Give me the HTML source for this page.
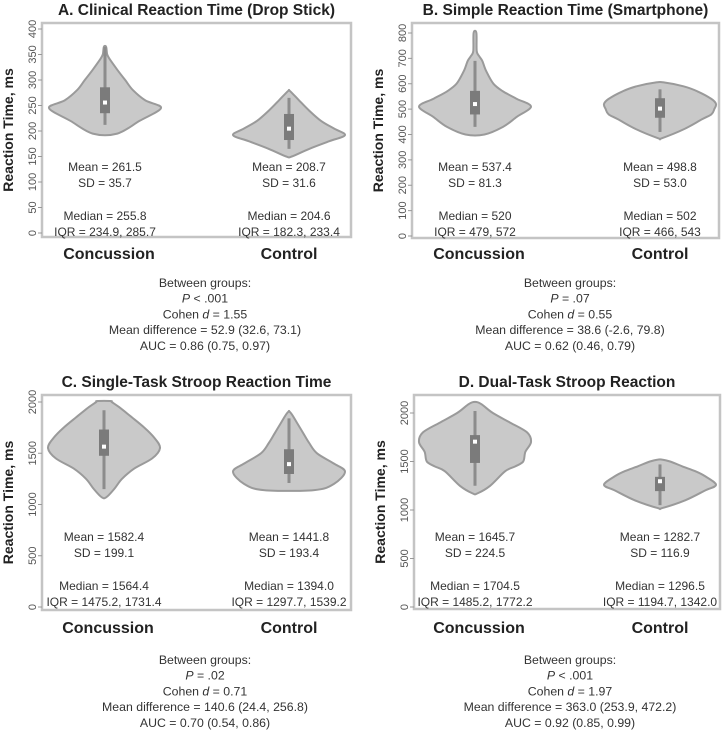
<!DOCTYPE html>
<html><head><meta charset="utf-8">
<style>
body{margin:0;background:#fff;}
svg{display:block;font-family:"Liberation Sans",Arial,sans-serif;}
.title{font-weight:bold;font-size:15.5px;fill:#222;text-anchor:middle;}
.cat{font-weight:bold;font-size:16px;fill:#222;text-anchor:middle;}
.ax{font-weight:bold;font-size:14px;fill:#222;text-anchor:middle;}
.tk{font-size:11px;fill:#555;text-anchor:middle;}
.st{font-size:12px;fill:#333;text-anchor:middle;}
.bg{font-size:12.3px;fill:#333;text-anchor:middle;}
</style></head>
<body>
<svg id="chart" width="724" height="734" viewBox="0 0 724 734"></svg>
<script>
// ---- data ----
const panelTitles = ["A. Clinical Reaction Time (Drop Stick)","B. Simple Reaction Time (Smartphone)","C. Single-Task Stroop Reaction Time","D. Dual-Task Stroop Reaction"];
const categories = ["Concussion","Control"];
const yMax = [400, 800, 2000, 2000];
const tickStep = [50, 100, 500, 500];
// violin density profiles: values and relative density
const vVals = [
 [[195,220,245,260,280,300,320,340,350,365],[150,165,180,192,205,220,240,260,275,280]],
 [[400,430,470,510,540,570,600,650,690,710,730,800],[385,420,460,480,500,520,540,570,590,605]],
 [[1070,1150,1250,1350,1450,1550,1650,1750,1850,1950,2000,2010],[1140,1200,1320,1400,1500,1600,1700,1800,1880,1910]],
 [[1170,1250,1400,1450,1500,1600,1700,1800,1900,2000,2080,2110],[1020,1100,1200,1260,1350,1400,1450,1500,1520]]
];
const vDens = [
 [[0.22,0.62,1,0.72,0.5,0.36,0.22,0.09,0.04,0.02],[0.05,0.36,0.72,1,0.8,0.57,0.36,0.18,0.05,0]],
 [[0.17,0.5,0.75,1,0.75,0.5,0.33,0.2,0.13,0.07,0.03,0.025],[0.03,0.42,0.75,0.92,0.97,1,0.92,0.67,0.42,0.08]],
 [[0.04,0.18,0.32,0.54,0.86,1,0.9,0.72,0.5,0.27,0.14,0.12],[0.45,0.8,1,0.8,0.5,0.36,0.25,0.14,0.05,0]],
 [[0.04,0.27,0.54,0.72,0.86,0.9,1,0.93,0.63,0.32,0.14,0.05],[0.04,0.45,0.8,1,0.8,0.63,0.4,0.18,0.04]]
];
const whiskerLo = [[212,165],[430,410],[1150,1210],[1250,1050]];
const whiskerHi = [[365,265],[690,578],[1920,1840],[2020,1470]];
const q1 = [[234.9,182.3],[479,466],[1475.2,1297.7],[1485.2,1194.7]];
const q3 = [[285.7,233.4],[572,543],[1731.4,1539.2],[1772.2,1342.0]];
const medians = [[255.8,204.6],[520,502],[1564.4,1394.0],[1704.5,1296.5]];
const meanLbl = [["261.5","208.7"],["537.4","498.8"],["1582.4","1441.8"],["1645.7","1282.7"]];
const sdLbl = [["35.7","31.6"],["81.3","53.0"],["199.1","193.4"],["224.5","116.9"]];
const iqrLbl = [["234.9, 285.7","182.3, 233.4"],["479, 572","466, 543"],["1475.2, 1731.4","1297.7, 1539.2"],["1485.2, 1772.2","1194.7, 1342.0"]];
const betweenP = ["< .001","= .07","= .02","< .001"];
const cohenD = ["1.55","0.55","0.71","1.97"];
const meanDiff = ["52.9 (32.6, 73.1)","38.6 (-2.6, 79.8)","140.6 (24.4, 256.8)","363.0 (253.9, 472.2)"];
const aucLbl = ["0.86 (0.75, 0.97)","0.62 (0.46, 0.79)","0.70 (0.54, 0.86)","0.92 (0.85, 0.99)"];

// ---- layout ----
const L = [
 {x0:42,x1:351,top:23,bot:237,y0:233,yT:29,cx:[105,289],tY:15,statY:167,catY:259,bgY:283,bgX:205},
 {x0:412,x1:719,top:23,bot:238,y0:236,yT:33,cx:[475,660],tY:15,statY:167,catY:259,bgY:283,bgX:570},
 {x0:42,x1:351,top:395,bot:610,y0:607,yT:402,cx:[104,289],tY:387,statY:537,catY:633,bgY:660,bgX:205},
 {x0:414,x1:720,top:395,bot:609,y0:607,yT:413,cx:[475,660],tY:387,statY:537,catY:633,bgY:660,bgX:570}
];
const NS="http://www.w3.org/2000/svg";
const svg=document.getElementById('chart');
function mk(tag,attrs,parent,text){const e=document.createElementNS(NS,tag);for(const k in attrs)e.setAttribute(k,attrs[k]);if(text!==undefined)e.textContent=text;(parent||svg).appendChild(e);return e;}
function smoothClosed(P){
  const n=P.length;let d='';
  for(let i=0;i<n;i++){
    const p0=P[(i-1+n)%n],p1=P[i],p2=P[(i+1)%n],p3=P[(i+2)%n];
    if(i===0)d+='M'+p1[0].toFixed(1)+','+p1[1].toFixed(1);
    const c1=[p1[0]+(p2[0]-p0[0])/6,p1[1]+(p2[1]-p0[1])/6];
    const c2=[p2[0]-(p3[0]-p1[0])/6,p2[1]-(p3[1]-p1[1])/6];
    d+='C'+c1.map(v=>v.toFixed(1)).join(',')+' '+c2.map(v=>v.toFixed(1)).join(',')+' '+p2.map(v=>v.toFixed(1)).join(',');
  }
  return d+'Z';
}
const HW=56;
for(let p=0;p<4;p++){
  const l=L[p];
  const y=v=>l.y0-(v/yMax[p])*(l.y0-l.yT);
  const g=mk('g',{});
  
  
  const t=mk('text',{x:(l.x0+l.x1)/2,y:l.tY,class:'title'},g,panelTitles[p]);
  
  
  const fr=mk('rect',{x:l.x0,y:l.top,width:l.x1-l.x0,height:l.bot-l.top,fill:'none',stroke:'#c4c4c4','stroke-width':2.5},g);
  
  
  for(let v=0;v<=yMax[p];v+=tickStep[p]){
    const yy=y(v);
    mk('line',{x1:l.x0-4,x2:l.x0,y1:yy,y2:yy,stroke:'#999','stroke-width':1},g);
    const tk=mk('text',{x:0,y:0,class:'tk',transform:`translate(${l.x0-9},${yy}) rotate(-90)`,'dominant-baseline':'middle'},g,String(v));
    
    
  }
  const at=mk('text',{x:0,y:0,class:'ax',transform:`translate(${l.x0-29},${(l.top+l.bot)/2}) rotate(-90)`},g,'Reaction Time, ms');
  
  
  for(let c=0;c<2;c++){
    const cx=l.cx[c];
    const vs=vVals[p][c], ds=vDens[p][c];
    let right=vs.map((v,i)=>[cx+ds[i]*HW,y(v)]);
    let left=vs.map((v,i)=>[cx-ds[i]*HW,y(v)]).reverse();
    const vi=mk('path',{d:smoothClosed(right.concat(left)),fill:'#c9c9c9',stroke:'#9a9a9a','stroke-width':2,'stroke-linejoin':'round'},g);
    
    
    const wl=mk('line',{x1:cx,x2:cx,y1:y(whiskerLo[p][c]),y2:y(whiskerHi[p][c]),stroke:'#8c8c8c','stroke-width':3},g);
    
    
    const bx=mk('rect',{x:cx-5,y:y(q3[p][c]),width:10,height:y(q1[p][c])-y(q3[p][c]),fill:'#7b7b7b'},g);
    
    
    const md=mk('rect',{x:cx-2,y:y(medians[p][c])-2,width:4,height:4,fill:'#fff'},g);
    
    
    const lines=['Mean = '+meanLbl[p][c],'SD = '+sdLbl[p][c],'Median = '+medians[p][c].toFixed(p===1?0:1),'IQR = '+iqrLbl[p][c]];
    const offs=[0,16,49,65];
    lines.forEach((s,i)=>{const st=mk('text',{x:cx,y:l.statY+offs[i]+4,class:'st'},g,s);
      
      });
    const cl=mk('text',{x:cx+(c?0:4),y:l.catY,class:'cat'},g,categories[c]);
    
    
  }
  for(let i=0;i<5;i++){
    const bt=mk('text',{x:l.bgX,y:l.bgY+i*15.7+4,class:'bg'},g);
    
    
    if(i===0)bt.textContent='Between groups:';
    else if(i===1){mk('tspan',{'font-style':'italic'},bt,'P');mk('tspan',{},bt,' '+betweenP[p]);}
    else if(i===2){mk('tspan',{},bt,'Cohen ');mk('tspan',{'font-style':'italic'},bt,'d');mk('tspan',{},bt,' = '+cohenD[p]);}
    else if(i===3)bt.textContent='Mean difference = '+meanDiff[p];
    else bt.textContent='AUC = '+aucLbl[p];
  }
}
</script>
</body></html>
